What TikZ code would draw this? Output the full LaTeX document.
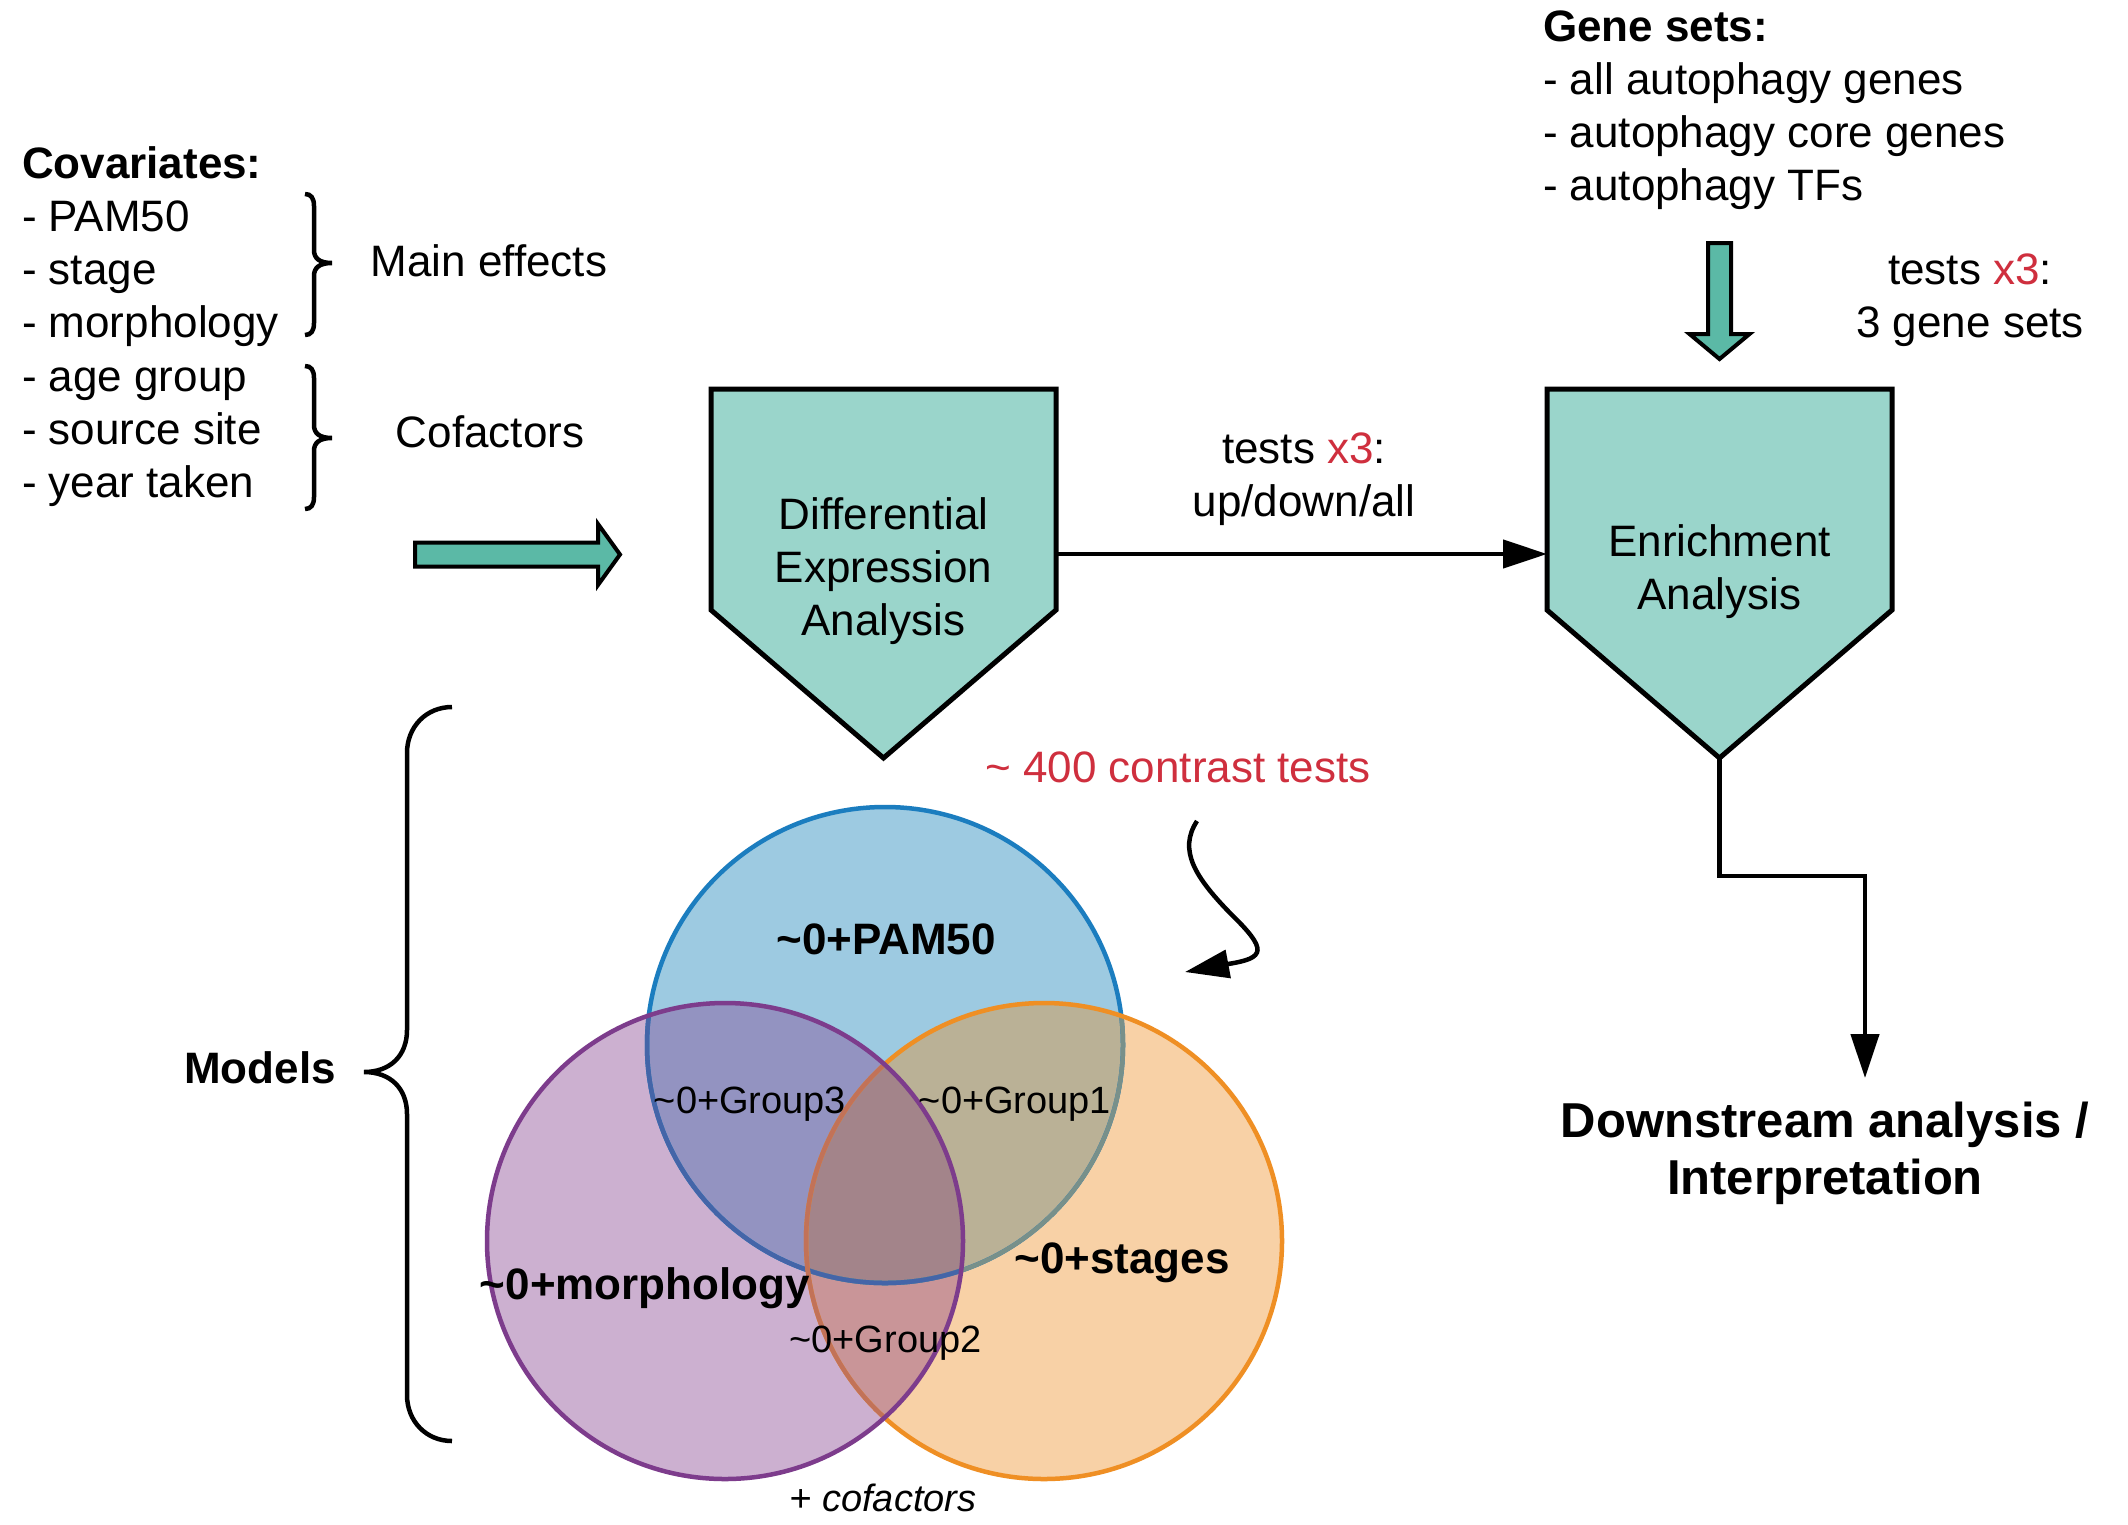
\documentclass[tikz,border=0pt]{standalone}
\usepackage{fontspec}
\setmainfont{Liberation Sans}
\usetikzlibrary{arrows.meta,calc}
\pgfdeclarelayer{background}
\pgfsetlayers{background,main}
\definecolor{boxfill}{HTML}{9AD5CB}
\definecolor{arrowfill}{HTML}{5BB9A6}
\definecolor{hlred}{HTML}{CF2F3E}
\definecolor{vB}{HTML}{9DCAE1}
\definecolor{vP}{HTML}{CCB0D0}
\definecolor{vO}{HTML}{F8D1A6}
\definecolor{vBP}{HTML}{9393C1}
\definecolor{vBO}{HTML}{BAB196}
\definecolor{vPO}{HTML}{C99598}
\definecolor{vBPO}{HTML}{A3848A}
\definecolor{sB}{HTML}{1B7DBF}
\definecolor{sP}{HTML}{7D3C8C}
\definecolor{sO}{HTML}{EF8F24}
\definecolor{sBinO}{HTML}{78908A}
\definecolor{sBinP}{HTML}{4465A8}
\definecolor{sOinP}{HTML}{C27258}
\def\vennB{(885,1045) circle[radius=238pt]}
\def\vennP{(725,1241) circle[radius=238pt]}
\def\vennO{(1044,1241) circle[radius=238pt]}
\begin{document}
\begin{tikzpicture}[x=1pt,y=-1pt,
  txt/.style={inner sep=0pt, outer sep=0pt, font=\fontsize{44}{53.2}\selectfont},
  btxt/.style={txt, font=\fontsize{44}{53.2}\selectfont\bfseries},
  stxt/.style={inner sep=0pt, outer sep=0pt, font=\fontsize{38}{45}\selectfont},
  bigtxt/.style={inner sep=0pt, outer sep=0pt, align=center, font=\fontsize{49}{57}\selectfont\bfseries},
  boxnode/.style={txt, align=center, minimum width=345pt, minimum height=369pt},
  pentabox/.style={fill=boxfill, draw=black, line width=5pt, line join=miter},
  fatarrow/.style={fill=arrowfill, draw=black, line width=4pt, line join=miter},
  conn/.style={line width=4.5pt, line join=miter, -{Triangle[length=44pt,width=28pt]}},
  bracepath/.style={line width=4.5pt},
  vline/.style={line width=4.5pt}]
\useasboundingbox (0,0) rectangle (2128,1524);

% ---- left text block
\node[txt, anchor=north west, align=left] (cov) at (22,146.5)
  {\textbf{Covariates:}\\- PAM50\\- stage\\- morphology\\- age group\\- source site\\- year taken};
\node[txt] (maineff) at (489,261) {Main effects};
\node[txt] (cofac) at (490,432) {Cofactors};

% small braces
\draw[bracepath] (305,194) .. controls (311,194) and (314,198) .. (314,206) -- (314,250)
  .. controls (314,258) and (319,263) .. (332,263) .. controls (319,263) and (314,268) .. (314,276)
  -- (314,323) .. controls (314,331) and (311,335) .. (305,335);
\draw[bracepath] (305,366) .. controls (311,366) and (314,370) .. (314,378) -- (314,425)
  .. controls (314,433) and (319,438) .. (332,438) .. controls (319,438) and (314,443) .. (314,451)
  -- (314,497) .. controls (314,505) and (311,509) .. (305,509);

% fat arrow right
\draw[fatarrow] (415,542.5) -- (598,542.5) -- (598,524) -- (620,554.5) -- (598,585)
  -- (598,566.5) -- (415,566.5) -- cycle;

% ---- boxes
\node[boxnode] (de) at (883.5,571) {Differential\\Expression\\Analysis};
\node[boxnode] (ea) at (1719.5,572) {Enrichment\\Analysis};
\begin{pgfonlayer}{background}
\fill[white] (0,0) rectangle (2128,1524);
\draw[pentabox] (711,389) -- (1056,389) -- (1056,610) -- (883.5,758) -- (711,610) -- cycle;
\draw[pentabox] (1547,389) -- (1892,389) -- (1892,610) -- (1719.5,758) -- (1547,610) -- cycle;
\end{pgfonlayer}
\coordinate (ay) at (0,554);
\draw[conn] (de.east |- ay) -- (ea.west |- ay);
\node[txt, align=center] (testsa) at (1304,479) {tests \textcolor{hlred}{x3}:\\up/down/all};

% ---- gene sets
\node[txt, anchor=north west, align=left] (genes) at (1543,10.5)
  {\textbf{Gene sets:}\\- all autophagy genes\\- autophagy core genes\\- autophagy TFs};
\draw[fatarrow] (1708,243) -- (1731,243) -- (1731,334) -- (1749.5,334) -- (1719.5,359)
  -- (1689.5,334) -- (1708,334) -- cycle;
\node[txt, align=center] (testsb) at (1970,300) {tests \textcolor{hlred}{x3}:\\3 gene sets};

% ---- downstream
\node[bigtxt] (ds) at (1825,1153) {Downstream analysis /\\Interpretation};
\coordinate (bend) at (1865,876);
\coordinate (dsin) at (1865,1078);
\draw[conn] (ea.south) |- (bend) -- (dsin);

% ---- contrast tests
\node[txt, text=hlred] (ctests) at (1178,767) {\textasciitilde{} 400 contrast tests};
\coordinate (curlS) at (1197,821);
\coordinate (curlE) at (1185,972);
\draw[conn] (curlS) .. controls (1178,850) and (1195,877) .. (1230,913)
  .. controls (1268,950) and (1266,958) .. (1228,964) -- (curlE);

% ---- Venn diagram
\fill[vB] \vennB;
\fill[vP] \vennP;
\fill[vO] \vennO;
\begin{scope}\clip \vennB; \fill[vBP] \vennP; \fill[vBO] \vennO; \end{scope}
\begin{scope}\clip \vennP; \fill[vPO] \vennO; \end{scope}
\begin{scope}\clip \vennB; \clip \vennP; \fill[vBPO] \vennO; \end{scope}
\draw[sB, vline] \vennB;
\begin{scope}\clip \vennO; \draw[sBinO, vline] \vennB; \end{scope}
\begin{scope}\clip \vennP; \draw[sBinP, vline] \vennB; \end{scope}
\draw[sO, vline] \vennO;
\begin{scope}\clip \vennP; \draw[sOinP, vline] \vennO; \end{scope}
\draw[sP, vline] \vennP;

\node[btxt] (pam) at (886,939) {\textasciitilde0+PAM50};
\node[btxt, anchor=base] (morph) at (645,1299) {\textasciitilde0+morphology};
\node[btxt, anchor=base] (stages) at (1122,1273) {\textasciitilde0+stages};
\node[stxt, anchor=base] (g3) at (750,1113) {\textasciitilde0+Group3};
\node[stxt, anchor=base] (g1) at (1015,1113) {\textasciitilde0+Group1};
\node[stxt, anchor=base] (g2) at (885.5,1352) {\textasciitilde0+Group2};
\node[stxt, anchor=base] (cofit) at (883,1511) {\itshape + cofactors};

% ---- models brace
\node[btxt] (models) at (260,1068) {Models};
\draw[bracepath] (452,707) .. controls (426,707) and (407,727) .. (407,753) -- (407,1030)
  .. controls (407,1056) and (390,1072) .. (364,1072) .. controls (390,1072) and (407,1088) .. (407,1114)
  -- (407,1395) .. controls (407,1421) and (426,1441) .. (452,1441);
\end{tikzpicture}
\end{document}
